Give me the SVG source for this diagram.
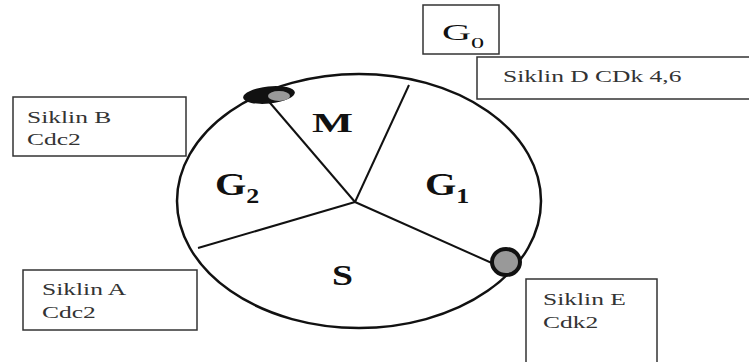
<svg xmlns="http://www.w3.org/2000/svg" width="749" height="362" viewBox="0 0 749 362">
<style>
.box{fill:#fff;stroke:#333;stroke-width:1.5}
.lbl{font-family:"Liberation Serif",serif;font-size:17px;fill:#333}
.ph{font-family:"Liberation Serif",serif;font-weight:bold;font-size:31px;fill:#111}
.sub{font-size:20px}
.seg{stroke:#111;stroke-width:2;fill:none}
</style>
<rect width="749" height="362" fill="#fff"/>
<g id="cycle">
<ellipse cx="359" cy="201" rx="182" ry="127" fill="#fff" stroke="#111" stroke-width="2.5"/>
</g>
<g id="connectors">
<line class="seg" x1="355" y1="202" x2="265" y2="97"/>
<line class="seg" x1="355" y1="202" x2="409" y2="85"/>
<line class="seg" x1="355" y1="202" x2="198" y2="248"/>
<line class="seg" x1="355" y1="202" x2="503" y2="268"/>
</g>
<g id="checkpoint-top">
<ellipse cx="269" cy="95" rx="26" ry="8.5" fill="#111" transform="rotate(-6 269 95)"/>
<ellipse cx="279" cy="96" rx="11" ry="5" fill="#999"/>
</g>
<g id="checkpoint-bottom"><ellipse cx="506" cy="262" rx="14" ry="13" fill="#999" stroke="#111" stroke-width="4"/></g>
<g id="phase-M"><text class="ph" transform="translate(312 132) scale(1.55 1)" style="font-size:28px">M</text></g>
<g id="phase-G2"><text class="ph" transform="translate(215 195) scale(1.3 1)">G<tspan class="sub" dy="8">2</tspan></text></g>
<g id="phase-G1"><text class="ph" transform="translate(425 195) scale(1.3 1)">G<tspan class="sub" dy="8">1</tspan></text></g>
<g id="phase-S"><text class="ph" transform="translate(332 285) scale(1.3 1)" style="font-size:29px">S</text></g>
<g id="box-G0">
<rect class="box" x="423" y="5" width="76" height="49"/>
<text class="ph" transform="translate(442 40) scale(1.75 1)" style="font-weight:normal;font-size:23px">G<tspan style="font-size:15px" dy="8">0</tspan></text>
</g>
<g id="box-D">
<rect class="box" x="477" y="57" width="275" height="42"/>
<text class="lbl" transform="translate(503 82) scale(1.5 1)">Siklin D CDk 4,6</text>
</g>
<g id="box-B">
<rect class="box" x="13" y="97" width="173" height="59"/>
<text class="lbl" transform="translate(27 123) scale(1.5 1)">Siklin B</text>
<text class="lbl" transform="translate(27 145) scale(1.5 1)">Cdc2</text>
</g>
<g id="box-A">
<rect class="box" x="23" y="270" width="174" height="60"/>
<text class="lbl" transform="translate(42 295) scale(1.5 1)">Siklin A</text>
<text class="lbl" transform="translate(42 318) scale(1.5 1)">Cdc2</text>
</g>
<g id="box-E">
<rect class="box" x="526" y="279" width="131" height="90"/>
<text class="lbl" transform="translate(543 305) scale(1.5 1)">Siklin E</text>
<text class="lbl" transform="translate(543 328) scale(1.5 1)">Cdk2</text>
</g>
</svg>
